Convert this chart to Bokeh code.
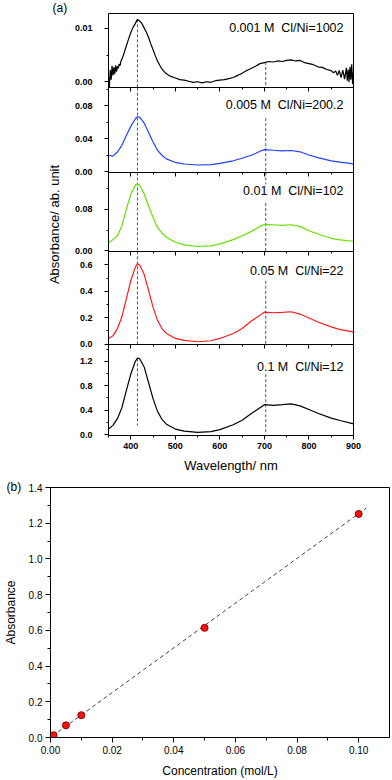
from bokeh.plotting import figure
from bokeh.models import (Range1d, LinearAxis, FixedTicker, NumeralTickFormatter,
                          Label, CustomJSTickFormatter)
from bokeh.embed import file_html
from bokeh.resources import INLINE

FONT = "Liberation Sans"

# ---------------- data, panel (a) ----------------
wl_1 = [350, 352, 354, 356, 358, 360, 362, 364, 366, 368, 370, 372, 374, 376, 378,
        380, 385, 390, 395, 400, 405, 410, 415, 420, 425, 430, 435, 440, 445, 450,
        455, 460, 465, 470, 475, 480, 490, 500, 510, 520, 530, 540, 550, 560, 570,
        580, 590, 600, 610, 620, 630, 640, 650, 660, 670, 680, 690, 700, 710, 720,
        730, 740, 750, 760, 770, 780, 790, 800, 810, 820, 830, 840, 850, 855, 860,
        864, 868, 872, 876, 880, 884, 886, 888, 890, 892, 894, 896, 898, 900]
abs_0001 = [0.0008, -0.0010, 0.0022, 0.0004, 0.0030, 0.0012, 0.0027, 0.0014, 0.0031, 0.0019,
            0.0029, 0.0025, 0.0033, 0.0030, 0.0039, 0.0042, 0.0054, 0.0067, 0.0080, 0.0092,
            0.0102, 0.0109, 0.0117, 0.0114, 0.0109, 0.0101, 0.0093, 0.0083, 0.0071, 0.0060,
            0.0049, 0.0039, 0.0031, 0.0024, 0.0019, 0.0015, 0.0010, 0.0007, 0.0004, 0.0003,
            0.0001, -0.0001, 0.0000, -0.0002, 0.0000, -0.0001, 0.0002, 0.0003, 0.0004, 0.0006,
            0.0008, 0.0012, 0.0016, 0.0021, 0.0025, 0.0029, 0.0034, 0.0036, 0.0038, 0.0037,
            0.0039, 0.0038, 0.0040, 0.0041, 0.0039, 0.0040, 0.0036, 0.0034, 0.0032, 0.0028,
            0.0027, 0.0023, 0.0021, 0.0017, 0.0020, 0.0012, 0.0021, 0.0008, 0.0022, 0.0005,
            0.0026, 0.0002, 0.0023, -0.0001, 0.0028, 0.0004, 0.0033, -0.0004, 0.0018]

wl = [350, 360, 370, 380, 390, 400, 410, 415, 420, 430, 440, 450, 460, 470, 480,
      500, 520, 550, 580, 600, 630, 650, 670, 680, 690, 700, 720, 740, 760, 780,
      800, 820, 850, 870, 900]
abs_0005 = [0.020, 0.019, 0.024, 0.032, 0.044, 0.055, 0.064, 0.0667, 0.0663, 0.059,
            0.0476, 0.036, 0.026, 0.020, 0.0156, 0.0113, 0.0094, 0.0082, 0.0086, 0.0101,
            0.0133, 0.0164, 0.0200, 0.0222, 0.0248, 0.0269, 0.0261, 0.0254, 0.0258, 0.0242,
            0.0203, 0.0172, 0.0133, 0.0117, 0.0095]
abs_001 = [0.0152, 0.0216, 0.029, 0.048, 0.080, 0.1086, 0.1263, 0.1295, 0.1263, 0.110,
           0.0863, 0.064, 0.045, 0.0343, 0.026, 0.0165, 0.0114, 0.0083, 0.0095, 0.0133,
           0.0216, 0.029, 0.037, 0.0419, 0.047, 0.0508, 0.0502, 0.0489, 0.0502, 0.047,
           0.0387, 0.0324, 0.0241, 0.021, 0.0184]
abs_005 = [0.0425, 0.0625, 0.1175, 0.205, 0.3425, 0.48, 0.58, 0.61, 0.60, 0.53,
           0.405, 0.28, 0.18, 0.1175, 0.08, 0.0425, 0.0275, 0.0175, 0.025, 0.0425,
           0.08, 0.1175, 0.1725, 0.195, 0.2175, 0.2425, 0.2375, 0.24, 0.245, 0.2275,
           0.1975, 0.1675, 0.13, 0.11, 0.0925]
abs_01 = [0.09, 0.15, 0.26, 0.44, 0.72, 0.99, 1.20, 1.255, 1.245, 1.11,
          0.85, 0.59, 0.38, 0.25, 0.17, 0.09, 0.055, 0.035, 0.048, 0.08,
          0.16, 0.235, 0.34, 0.39, 0.44, 0.49, 0.48, 0.49, 0.503, 0.47,
          0.41, 0.35, 0.27, 0.23, 0.175]

panel_labels = ["0.001 M \u00a0Cl/Ni=1002", "0.005 M \u00a0Cl/Ni=200.2", "0.01 M \u00a0Cl/Ni=102",
                "0.05 M \u00a0Cl/Ni=22", "0.1 M \u00a0Cl/Ni=12"]
panel_colors = ["#000000", "#2040ff", "#66e000", "#ff1a1a", "#000000"]
panel_ylims = [(-0.0011, 0.0128), (-0.0008, 0.102), (-0.0012, 0.151),
               (-0.005, 0.7025), (-0.016, 1.475)]
panel_yticks = [[0.0, 0.01], [0.0, 0.04, 0.08], [0.0, 0.08],
                [0.0, 0.2, 0.4, 0.6], [0.0, 0.4, 0.8, 1.2]]
panel_yminor = [[0.005], [0.02, 0.06, 0.10], [0.04, 0.12],
                [0.1, 0.3, 0.5], [0.2, 0.6, 1.0, 1.4]]
panel_yfmt = ["{:.2f}", "{:.2f}", "{:.2f}", "{:.1f}", "{:.1f}"]
wl_ticks = [400, 500, 600, 700, 800, 900]
wl_minor = [350, 450, 550, 650, 750, 850]

# dashed peak guides: (wavelength, y_start, y_end) per panel
guides = [
    [(415, 0.0117, -0.0011), (703, 0.0037, -0.0011)],
    [(415, 0.102, -0.0008), (703, 0.065, -0.0008)],
    [(415, 0.151, -0.0012), (703, 0.151, 0.128), (703, 0.092, -0.0012)],
    [(415, 0.7025, -0.005), (703, 0.48, -0.005)],
    [(415, 1.25, 0.147), (703, 0.99, 0.0)],
]

# ---------------- data, panel (b) ----------------
conc = [0.001, 0.005, 0.01, 0.05, 0.1]
absorb = [0.0128, 0.068, 0.125, 0.614, 1.252]
fit_x = [0.0025, 0.1025]
fit_y = [0.032, 1.285]
conc_ticks = [0.0, 0.02, 0.04, 0.06, 0.08, 0.10]
conc_minor = [0.01, 0.03, 0.05, 0.07, 0.09]
abs_ticks = [0.0, 0.2, 0.4, 0.6, 0.8, 1.0, 1.2, 1.4]
abs_minor = [0.1, 0.3, 0.5, 0.7, 0.9, 1.1, 1.3]

series = [(wl_1, abs_0001), (wl, abs_0005), (wl, abs_001), (wl, abs_005), (wl, abs_01)]

# ---------------- layout of panel (a) ----------------
FH = 423  # frame height in px
bands = [(348.7, 423), (263.7, 348.7), (184.5, 263.7), (91, 184.5), (0, 91)]  # px from bottom
label_drop = [14, 17, 18.4, 19.2, 22]

pa = figure(width=392, height=480, x_range=Range1d(350, 900), y_range=Range1d(0, FH),
            output_backend="svg", toolbar_location=None,
            min_border_left=108, min_border_right=39, min_border_top=12, min_border_bottom=45,
            x_axis_location=None, y_axis_location=None)
pa.outline_line_color = "black"
pa.outline_line_width = 1
pa.title.text = "(a)"
pa.title.align = "left"
pa.title.offset = -56
pa.title.standoff = -3
pa.title.text_font = FONT
pa.title.text_font_size = "12px"
pa.title.text_font_style = "normal"
pa.title.text_color = "black"

extra = {}
for i, ((b0, b1), (lo, hi)) in enumerate(zip(bands, panel_ylims)):
    s = (hi - lo) / (b1 - b0)
    extra[f"p{i}"] = Range1d(lo - b0 * s, hi + (FH - b1) * s)
pa.extra_y_ranges = extra

# one shared left axis: each panel's ticks sit inside that panel's band
tick_pos, tick_lab, minor_pos = [], [], []
for i in range(5):
    (b0, b1), (lo, hi) = bands[i], panel_ylims[i]
    for v in panel_yticks[i]:
        tick_pos.append(b0 + (v - lo) / (hi - lo) * (b1 - b0))
        tick_lab.append(panel_yfmt[i].format(v))
    for v in panel_yminor[i]:
        if lo <= v <= hi:
            minor_pos.append(b0 + (v - lo) / (hi - lo) * (b1 - b0))

for i in range(5):
    name = f"p{i}"
    g = guides[i]
    pa.segment(x0=[t[0] for t in g], y0=[t[1] for t in g], x1=[t[0] for t in g],
               y1=[t[2] for t in g], y_range_name=name, line_color="#555555",
               line_dash="3 2", line_width=1)
    xs, ys = series[i]
    pa.line(xs, ys, y_range_name=name, line_color=panel_colors[i], line_width=1.2)
    pa.add_layout(Label(x=900, y=bands[i][1], x_offset=-10, y_offset=-label_drop[i],
                        text=panel_labels[i], text_align="right", text_baseline="middle",
                        text_font=FONT, text_font_size="12.5px", text_color="black"))

ya = LinearAxis(ticker=FixedTicker(ticks=tick_pos, minor_ticks=minor_pos),
                formatter=CustomJSTickFormatter(
                    args=dict(pos=tick_pos, labs=tick_lab),
                    code="for (let i = 0; i < pos.length; i++) {"
                         " if (Math.abs(tick - pos[i]) < 1e-6) return labs[i]; }"
                         " return '';"),
                axis_label="Absorbance/ ab. unit", bounds=(0, 413))
ya.axis_line_color = None
ya.major_tick_out = 4
ya.major_tick_in = 0
ya.minor_tick_out = 2
ya.minor_tick_in = 0
ya.major_label_standoff = 12
ya.major_label_text_font = FONT
ya.major_label_text_font_size = "9px"
ya.major_label_text_font_style = "bold"
ya.major_label_text_color = "black"
ya.axis_label_standoff = 10
ya.axis_label_text_font = FONT
ya.axis_label_text_font_size = "13px"
ya.axis_label_text_font_style = "normal"
ya.axis_label_text_color = "black"
pa.add_layout(ya, "left")

# separators with ticks hanging into the panel below
for b0, b1 in bands[:-1]:
    sep = LinearAxis(fixed_location=b0,
                     ticker=FixedTicker(ticks=wl_ticks, minor_ticks=wl_minor),
                     formatter=CustomJSTickFormatter(code="return ''"))
    sep.axis_line_color = "black"
    sep.major_tick_out = 4
    sep.major_tick_in = 0
    sep.minor_tick_out = 2
    sep.minor_tick_in = 0
    sep.major_label_text_font_size = "1px"
    pa.add_layout(sep, "below")

xa = LinearAxis(ticker=FixedTicker(ticks=wl_ticks, minor_ticks=wl_minor),
                formatter=NumeralTickFormatter(format="0"), axis_label="Wavelength/ nm")
xa.axis_line_color = None
xa.major_tick_out = 4
xa.major_tick_in = 0
xa.minor_tick_out = 2
xa.minor_tick_in = 0
xa.major_label_standoff = 3
xa.major_label_text_font = FONT
xa.major_label_text_font_size = "9px"
xa.major_label_text_font_style = "bold"
xa.major_label_text_color = "black"
xa.axis_label_standoff = 6
xa.axis_label_text_font = FONT
xa.axis_label_text_font_size = "13px"
xa.axis_label_text_font_style = "normal"
xa.axis_label_text_color = "black"
pa.add_layout(xa, "below")

for g in pa.grid:
    g.visible = False
for r in pa.renderers:
    pass

# ---------------- panel (b) ----------------
pb = figure(width=392, height=300, x_range=Range1d(0, 0.11), y_range=Range1d(0, 1.4),
            output_backend="svg", toolbar_location=None,
            min_border_left=48, min_border_right=3, min_border_top=7, min_border_bottom=42)
pb.grid.visible = False
pb.outline_line_color = "black"
pb.title.text = "(b)"
pb.title.align = "left"
pb.title.offset = -44
pb.title.standoff = -13
pb.title.text_font = FONT
pb.title.text_font_size = "12px"
pb.title.text_font_style = "normal"
pb.title.text_color = "black"

pb.line(fit_x, fit_y, line_color="#444444", line_dash="4 3", line_width=1)
pb.scatter(conc, absorb, size=7, fill_color="#ff1010", line_color="#8a0000", line_width=1)

pb.xaxis.ticker = FixedTicker(ticks=conc_ticks, minor_ticks=conc_minor)
pb.xaxis.formatter = NumeralTickFormatter(format="0.00")
pb.yaxis.ticker = FixedTicker(ticks=abs_ticks, minor_ticks=abs_minor)
pb.yaxis.formatter = NumeralTickFormatter(format="0.0")
pb.xaxis.axis_label = "Concentration (mol/L)"
pb.yaxis.axis_label = "Absorbance"
for a in (pb.xaxis[0], pb.yaxis[0]):
    a.major_tick_out = 5
    a.major_tick_in = 0
    a.minor_tick_out = 3
    a.minor_tick_in = 0
    a.major_label_standoff = 3
    a.major_label_text_font = FONT
    a.major_label_text_font_size = "10px"
    a.major_label_text_color = "black"
    a.axis_label_text_font = FONT
    a.axis_label_text_font_size = "12px"
    a.axis_label_text_font_style = "normal"
    a.axis_label_text_color = "black"
pb.xaxis.axis_label_standoff = 7
pb.yaxis.axis_label_standoff = 8

open("out.html", "w").write(file_html([pa, pb], INLINE))
